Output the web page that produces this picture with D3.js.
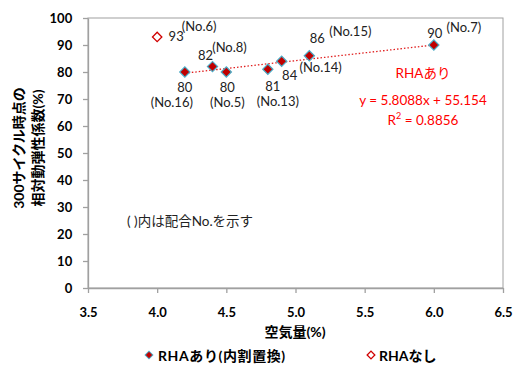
<!DOCTYPE html>
<html><head><meta charset="utf-8">
<script src="https://cdn.jsdelivr.net/npm/d3@7"></script>
<style>
body{margin:0;background:#fff;}
text{font-family:Lato,"Noto Sans CJK JP",sans-serif;}
</style></head><body>
<svg id="c" width="514" height="365"></svg>
<script>
// data
const withX = [4.2, 4.4, 4.5, 4.8, 4.9, 5.1, 6.0];
const withY = [80, 82, 80, 81, 84, 86, 90];
const withNo = ["(No.16)", "(No.8)", "(No.5)", "(No.13)", "(No.14)", "(No.15)", "(No.7)"];
const withoutX = [4.0];
const withoutY = [93];
const withoutNo = ["(No.6)"];
const xTicks = [3.5, 4.0, 4.5, 5.0, 5.5, 6.0, 6.5];
const yTicks = [0, 10, 20, 30, 40, 50, 60, 70, 80, 90, 100];
const slope = 5.8088, intercept = 55.154, r2 = 0.8856;
const seriesNames = ["RHAあり(内割置換)", "RHAなし"];
// label offsets (dx,dy for value; dx,dy for No.)
const withLabelPos = [
  {v:[0,15], n:[-13,30]},
  {v:[-7,-12], n:[17,-20]},
  {v:[1,15], n:[1,30]},
  {v:[5,17], n:[10,32]},
  {v:[8,14], n:[39,6]},
  {v:[8,-18], n:[41,-25]},
  {v:[1,-12], n:[30,-18]}
];
const withoutLabelPos = [{v:[19,-1], n:[42,-11]}];

const svg = d3.select("#c");
const L=88, R=503, T=18, B=288;
const x = d3.scaleLinear().domain([3.5,6.5]).range([L,R]);
const y = d3.scaleLinear().domain([0,100]).range([B,T]);
const grey="#a0a0a0";

// plot border
svg.append("rect").attr("x",L).attr("y",T).attr("width",R-L).attr("height",B-T)
  .attr("fill","none").attr("stroke",grey).attr("stroke-width",1);

const xa = svg.append("g").attr("transform",`translate(0,${B})`)
  .call(d3.axisBottom(x).tickValues(xTicks).tickFormat(d3.format(".1f")).tickSize(5).tickSizeOuter(0));
const ya = svg.append("g").attr("transform",`translate(${L},0)`)
  .call(d3.axisLeft(y).tickValues(yTicks).tickSize(5).tickSizeOuter(0));
[xa,ya].forEach(a=>{
  a.selectAll("path,line").attr("stroke",grey).attr("stroke-width",1.3);
  a.selectAll("text").attr("font-size",13).attr("font-weight","bold").attr("fill","#000");
});
xa.selectAll("text").attr("dy","1.6em");
ya.selectAll("text").attr("dx","-0.6em");

// trend line
const xmin=d3.min(withX), xmax=d3.max(withX);
svg.append("line").attr("x1",x(xmin)).attr("y1",y(slope*xmin+intercept))
  .attr("x2",x(xmax)).attr("y2",y(slope*xmax+intercept))
  .attr("stroke","#e02020").attr("stroke-width",1.3).attr("stroke-dasharray","1.5,2");

// filled markers
withX.forEach((v,i)=>{
  svg.append("path").attr("d",d3.symbol().type(d3.symbolSquare).size(52)())
    .attr("transform",`translate(${x(v)},${y(withY[i])}) rotate(45)`)
    .attr("fill","#c00000").attr("stroke","#4bacc6").attr("stroke-width",1.2);
});
withoutX.forEach((v,i)=>{
  svg.append("path").attr("d",d3.symbol().type(d3.symbolSquare).size(44)())
    .attr("transform",`translate(${x(v)},${y(withoutY[i])}) rotate(45)`)
    .attr("fill","#fff").attr("stroke","#d00000").attr("stroke-width",1.3);
});

function labels(xs,ys,nos,pos){
  xs.forEach((v,i)=>{
    const px=x(v), py=y(ys[i]);
    svg.append("text").attr("x",px+pos[i].v[0]).attr("y",py+pos[i].v[1]).attr("text-anchor","middle")
      .attr("dominant-baseline","central").attr("font-size",13).attr("fill","#222").text(ys[i]);
    svg.append("text").attr("x",px+pos[i].n[0]).attr("y",py+pos[i].n[1]).attr("text-anchor","middle")
      .attr("dominant-baseline","central").attr("font-size",13).attr("fill","#222").text(nos[i]);
  });
}
labels(withX,withY,withNo,withLabelPos);
labels(withoutX,withoutY,withoutNo,withoutLabelPos);

// equation text
const eq = svg.append("g").attr("fill","#ff0000").attr("font-size",13.5);
eq.append("text").attr("x",423).attr("y",73).attr("text-anchor","middle").attr("dominant-baseline","central").text("RHAあり");
eq.append("text").attr("x",423).attr("y",100).attr("text-anchor","middle").attr("dominant-baseline","central")
  .text(`y = ${slope}x + ${intercept}`);
const rt = eq.append("text").attr("x",423).attr("y",120).attr("text-anchor","middle").attr("dominant-baseline","central");
rt.append("tspan").text("R");
rt.append("tspan").attr("font-size",9).attr("dy",-5).text("2");
rt.append("tspan").attr("dy",5).text(` = ${r2}`);

svg.append("text").attr("x",127).attr("y",221).attr("dominant-baseline","central")
  .attr("font-size",13.5).attr("fill","#222").text("( )内は配合No.を示す");

// axis titles
svg.append("text").attr("x",295).attr("y",331).attr("text-anchor","middle").attr("dominant-baseline","central")
  .attr("font-size",14).attr("font-weight","bold").text("空気量(%)");
const yt = svg.append("g").attr("transform","translate(0,148) rotate(-90)");
yt.append("text").attr("x",0).attr("y",18).attr("text-anchor","middle").attr("dominant-baseline","central")
  .attr("font-size",14).attr("font-weight","bold").text("300サイクル時点の");
yt.append("text").attr("x",0).attr("y",37).attr("text-anchor","middle").attr("dominant-baseline","central")
  .attr("font-size",14).attr("font-weight","bold").text("相対動弾性係数(%)");

// legend
const lg = svg.append("g");
lg.append("path").attr("d",d3.symbol().type(d3.symbolSquare).size(30)())
  .attr("transform","translate(149,355) rotate(45)").attr("fill","#c00000").attr("stroke","#4bacc6").attr("stroke-width",1);
lg.append("text").attr("x",158).attr("y",355).attr("dominant-baseline","central").attr("font-size",14)
  .attr("font-weight","bold").attr("letter-spacing",0.6).text(seriesNames[0]);
lg.append("path").attr("d",d3.symbol().type(d3.symbolSquare).size(30)())
  .attr("transform","translate(371,355) rotate(45)").attr("fill","#fff").attr("stroke","#d00000").attr("stroke-width",1.3);
lg.append("text").attr("x",379).attr("y",355).attr("dominant-baseline","central").attr("font-size",14)
  .attr("font-weight","bold").text(seriesNames[1]);
</script></body></html>
